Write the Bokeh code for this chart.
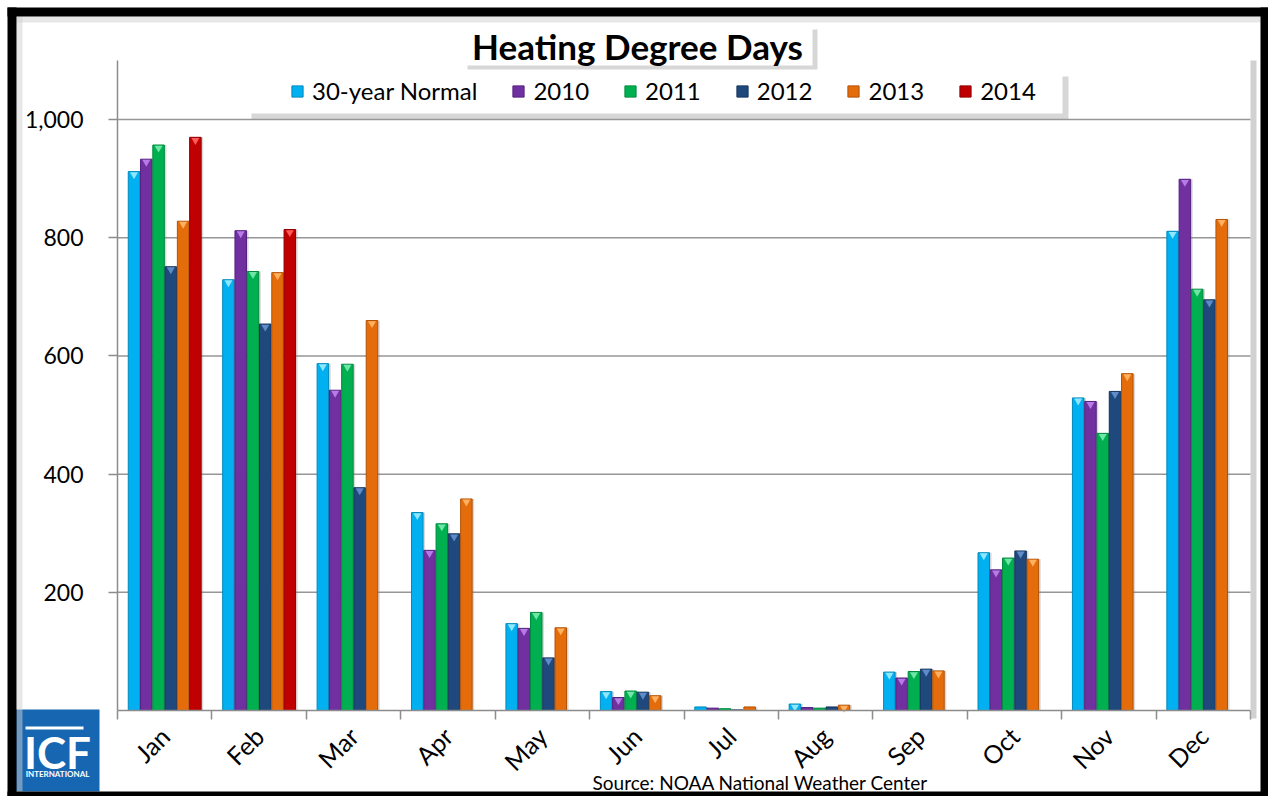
from math import pi
import numpy as np
from bokeh.plotting import figure
from bokeh.models import (ColumnDataSource, Range1d, FixedTicker, Label, BoxAnnotation,
                          Legend, LegendItem, NumeralTickFormatter, CustomJSTickFormatter,
                          CDSView, BooleanFilter)
from bokeh.transform import dodge
from bokeh.embed import file_html
from bokeh.resources import INLINE

# ---------------- data ----------------
months = ["Jan", "Feb", "Mar", "Apr", "May", "Jun", "Jul", "Aug", "Sep", "Oct", "Nov", "Dec"]
series_names = ["30-year Normal", "2010", "2011", "2012", "2013", "2014"]
normal = [912, 729, 587, 335, 147, 32, 6, 11, 65, 267, 529, 811]
y2010 = [933, 812, 542, 271, 139, 22, 4, 5, 55, 238, 523, 899]
y2011 = [957, 743, 586, 316, 166, 33, 3, 4, 66, 258, 469, 713]
y2012 = [751, 654, 377, 299, 89, 31, 1, 6, 70, 270, 540, 695]
y2013 = [828, 741, 660, 358, 140, 25, 6, 9, 67, 256, 570, 831]
y2014 = [970, 814]            # Jan, Feb only
y_ticks = [200, 400, 600, 800, 1000]
y_max = 1100

fills = ["#00B0F0", "#7030A0", "#00B050", "#1F497D", "#E46C0A", "#C00000"]
edges = ["#0089BC", "#55207F", "#008A3E", "#15355D", "#B35206", "#900000"]
tops = ["#8FE6FF", "#B77BE6", "#6FE6A6", "#5F8CC8", "#FFB060", "#FF5A5A"]

all_series = [normal, y2010, y2011, y2012, y2013, y2014]

# ---------------- geometry (pixels) ----------------
W, H = 1268, 796
FL, FR, FT, FB = 117, 1250, 60, 710          # plot area edges in the picture
n = len(months)
xpx = (FR - FL) / n                           # px per month
ypx = (FB - FT) / y_max                       # px per HDD

x_range = Range1d(-FL / xpx, n + (W - FR) / xpx)
y_range = Range1d(-(H - FB) / ypx, FB / ypx)

p = figure(width=W, height=H, x_range=x_range, y_range=y_range, title=None,
           output_backend="svg", toolbar_location=None,
           min_border_left=0, min_border_right=0, min_border_top=0, min_border_bottom=0)
p.background_fill_color = "white"
p.border_fill_color = "white"
p.outline_line_color = None
p.xgrid.visible = False
p.ygrid.visible = False

FONT = "Lato"
SLOT = 0.13
BARW = 0.122
AX = "#8c8c8c"

# horizontal gridlines across the plot area only
gsrc = ColumnDataSource(data=dict(y=y_ticks, x0=[0] * len(y_ticks), x1=[n] * len(y_ticks)))
p.segment(x0="x0", x1="x1", y0="y", y1="y", source=gsrc, line_color="#969696",
          line_width=1.5, level="underlay")

renderers = []
for j, (name, vals) in enumerate(zip(series_names, all_series)):
    xs = [i + 0.5 for i in range(len(vals))]
    src = ColumnDataSource(data=dict(x=xs, top=vals))
    off = (j - 2.5) * SLOT
    p.vbar(x=dodge("x", off + 0.022, range=p.x_range), top="top", width=BARW, source=src,
           fill_color="#808080", fill_alpha=0.3, line_color=None)
    r = p.vbar(x=dodge("x", off, range=p.x_range), top="top", width=BARW, source=src,
               fill_color=fills[j], line_color=edges[j], line_width=1)
    tall = CDSView(filter=BooleanFilter([v >= 8 for v in vals]))
    p.scatter(x=dodge("x", off, range=p.x_range), y=dodge("top", -5, range=p.y_range),
              source=src, view=tall, marker="inverted_triangle", size=8,
              fill_color=tops[j], line_color=None)
    renderers.append(r)

# ---------------- axes ----------------
p.yaxis.fixed_location = 0
p.yaxis.bounds = (0, y_max)
p.yaxis.ticker = FixedTicker(ticks=y_ticks)
p.yaxis.formatter = NumeralTickFormatter(format="0,0")
p.yaxis.axis_line_color = AX
p.yaxis.axis_line_width = 1.5
p.yaxis.major_tick_line_color = AX
p.yaxis.major_tick_line_width = 1.5
p.yaxis.major_tick_out = 9
p.yaxis.major_tick_in = 0
p.yaxis.minor_tick_line_color = None
p.yaxis.major_label_text_font = FONT
p.yaxis.major_label_text_font_size = "23px"
p.yaxis.major_label_text_color = "black"
p.yaxis.major_label_standoff = 25

p.xaxis.fixed_location = 0
p.xaxis.bounds = (0, n)
p.xaxis.ticker = FixedTicker(ticks=[i + 0.5 for i in range(n)],
                             minor_ticks=list(range(n + 1)))
p.xaxis.formatter = CustomJSTickFormatter(args=dict(months=months),
                                          code="return months[Math.floor(tick)];")
p.xaxis.major_label_orientation = pi / 4
p.xaxis.major_tick_line_color = None
p.xaxis.major_tick_out = 0
p.xaxis.major_tick_in = 0
p.xaxis.minor_tick_line_color = AX
p.xaxis.minor_tick_line_width = 1.5
p.xaxis.minor_tick_out = 9
p.xaxis.minor_tick_in = 0
p.xaxis.axis_line_color = AX
p.xaxis.axis_line_width = 1.5
p.xaxis.major_label_text_font = FONT
p.xaxis.major_label_text_font_size = "25px"
p.xaxis.major_label_text_color = "black"
p.xaxis.major_label_standoff = 12

# ---------------- decorations (screen px: x from left, y from bottom) ----------------
def box(l, r, b, t, color, alpha=1.0, level="annotation"):
    p.add_layout(BoxAnnotation(left=l, right=r, bottom=b, top=t,
                               left_units="screen", right_units="screen",
                               bottom_units="screen", top_units="screen",
                               fill_color=color, fill_alpha=alpha, line_color=None,
                               level=level, editable=False))

def Y(v):
    return H - v

# plot-area right shadow
box(FR, FR + 6, Y(718), Y(FT), "#bdbdbd", 0.7)

# title box + shadow
box(467, 817, Y(69), Y(29), "#9a9a9a", 0.4)
box(462, 812, Y(65), Y(25), "white")
p.add_layout(Label(x=637, y=Y(45), x_units="screen", y_units="screen",
                   text="Heating Degree Days", text_font=FONT, text_font_style="bold",
                   text_font_size="35px", text_align="center", text_baseline="middle",
                   text_color="black"))

# legend box + shadow
box(251, 1068, Y(119), Y(76), "#9a9a9a", 0.4)
box(245, 1062, Y(113), Y(70), "white")

legend = Legend(items=[LegendItem(label=s, renderers=[r]) for s, r in zip(series_names, renderers)],
                orientation="horizontal", location=(290, Y(105)),
                background_fill_alpha=0, border_line_color=None,
                padding=0, margin=0, spacing=34, label_standoff=8,
                glyph_width=14, glyph_height=14,
                label_text_font=FONT, label_text_font_size="24px", label_text_color="black")
p.add_layout(legend)

# source text
p.add_layout(Label(x=760, y=Y(782), x_units="screen", y_units="screen",
                   text="Source: NOAA National Weather Center", text_font=FONT,
                   text_font_size="19px", text_align="center", text_baseline="middle",
                   text_color="black"))

# ICF logo
box(15, 99, Y(791), Y(709), "#1766B2", level="overlay")
box(25, 83, Y(729), Y(726), "white", level="overlay")
p.add_layout(Label(x=57, y=Y(751), x_units="screen", y_units="screen", text="ICF",
                   text_font=FONT, text_font_style="bold", text_font_size="44px",
                   text_align="center", text_baseline="middle", text_color="white",
                   level="overlay"))
p.add_layout(Label(x=57, y=Y(773), x_units="screen", y_units="screen", text="INTERNATIONAL",
                   text_font=FONT, text_font_style="bold", text_font_size="8px",
                   text_align="center", text_baseline="middle", text_color="white",
                   level="overlay"))

# inner soft shadow and black outer frame
box(16, 22, Y(H), Y(16), "#cfcfcf", 0.5, level="overlay")
box(16, W - 8, Y(22), Y(16), "#cfcfcf", 0.5, level="overlay")
box(7, 16, 0, Y(7), "black", level="overlay")
box(7, W, Y(16), Y(7), "black", level="overlay")
box(W - 8, W, 0, Y(7), "black", level="overlay")
box(7, W, 0, Y(791), "black", level="overlay")

open("out.html", "w").write(file_html(p, INLINE))
